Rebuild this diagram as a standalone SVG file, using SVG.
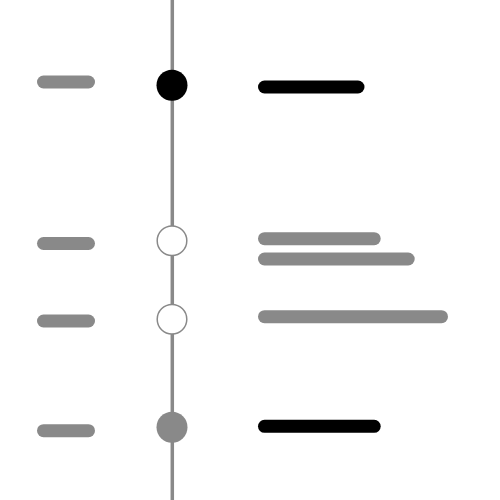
<svg xmlns="http://www.w3.org/2000/svg" width="500" height="500" viewBox="0 0 500 500">
<style>
.bar{stroke-linecap:round;stroke-width:13;fill:none}
.g{stroke:#898989}
.k{stroke:#000}
.axis{stroke:#898989;stroke-width:3.5}
</style>
<rect width="500" height="500" fill="#fff"/>
<g id="connectors">
<line class="axis" x1="172.3" y1="0" x2="172.3" y2="500"/>
</g>
<g id="event1">
<line class="bar g" x1="43.5" y1="82" x2="88.5" y2="82"/>
<circle cx="172" cy="85.3" r="15.5" fill="#000"/>
<line class="bar k" x1="264.5" y1="87" x2="358" y2="87"/>
</g>
<g id="event2">
<line class="bar g" x1="43.5" y1="243.5" x2="88.5" y2="243.5"/>
<circle cx="172" cy="240.7" r="14.8" fill="#fff" stroke="#898989" stroke-width="1.5"/>
<line class="bar g" x1="264.5" y1="238.7" x2="374.2" y2="238.7"/>
<line class="bar g" x1="264.5" y1="259" x2="408.2" y2="259"/>
</g>
<g id="event3">
<line class="bar g" x1="43.5" y1="321" x2="88.5" y2="321"/>
<circle cx="172" cy="319.3" r="14.8" fill="#fff" stroke="#898989" stroke-width="1.5"/>
<line class="bar g" x1="264.5" y1="316.7" x2="441.5" y2="316.7"/>
</g>
<g id="event4">
<line class="bar g" x1="43.5" y1="430.7" x2="88.5" y2="430.7"/>
<circle cx="172" cy="427.3" r="15.5" fill="#898989"/>
<line class="bar k" x1="264.5" y1="426.3" x2="374.2" y2="426.3"/>
</g>
</svg>
